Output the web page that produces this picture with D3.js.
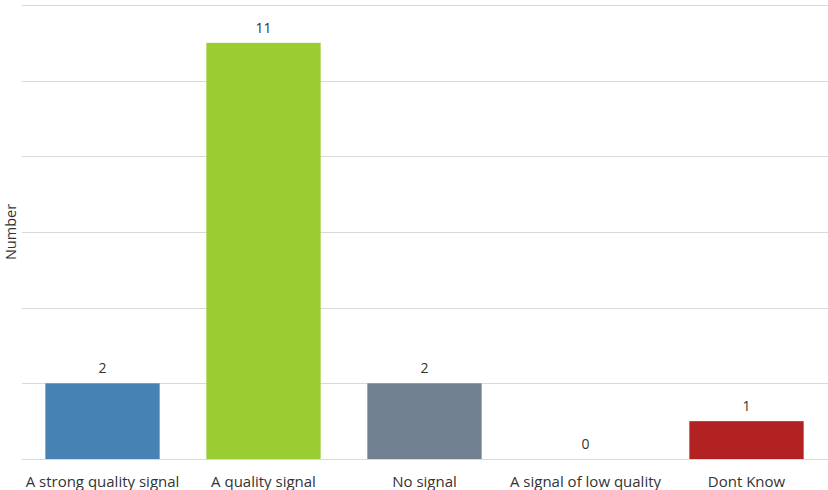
<!DOCTYPE html>
<html>
<head>
<meta charset="utf-8">
<script src="https://cdn.jsdelivr.net/npm/d3@7"></script>
<style>
  body { margin: 0; background: #fff; }
  svg text { font-family: "Open Sans", "Noto Sans", sans-serif; fill: #333333; }
</style>
</head>
<body>
<svg id="chart" width="828" height="490"></svg>
<script>
const categories = ["A strong quality signal", "A quality signal", "No signal", "A signal of low quality", "Dont Know"];
const counts = [2, 11, 2, 0, 1];
const barColors = ["#4682b4", "#9acd32", "#708090", "#4682b4", "#b22222"];
const gridTicks = [0, 2, 4, 6, 8, 10, 12];

const svg = d3.select("#chart");
const plot = { left: 22, right: 827, top: 5, bottom: 459 };

const x = d3.scaleBand()
  .domain(categories)
  .range([plot.left, plot.right])
  .paddingInner(0.29)
  .paddingOuter(0.145);

const y = d3.scaleLinear().domain([0, 12]).range([plot.bottom, plot.top]);

// horizontal gridlines
svg.append("g")
  .selectAll("line")
  .data(gridTicks)
  .join("line")
  .attr("x1", plot.left)
  .attr("x2", 828)
  .attr("y1", d => Math.round(y(d)) + 0.5)
  .attr("y2", d => Math.round(y(d)) + 0.5)
  .attr("stroke", "#d9d9d9")
  .attr("stroke-width", 1);

// bars
svg.append("g")
  .selectAll("rect")
  .data(counts)
  .join("rect")
  .attr("x", (d, i) => x(categories[i]))
  .attr("width", x.bandwidth())
  .attr("y", d => y(d))
  .attr("height", d => y(0) - y(d))
  .attr("fill", (d, i) => barColors[i]);

// value labels
svg.append("g")
  .selectAll("text")
  .data(counts)
  .join("text")
  .attr("x", (d, i) => x(categories[i]) + x.bandwidth() / 2)
  .attr("y", d => y(d) - 10)
  .attr("text-anchor", "middle")
  .attr("font-size", 14)
  .text(d => d);

// category axis labels
svg.append("g")
  .selectAll("text")
  .data(categories)
  .join("text")
  .attr("x", d => x(d) + x.bandwidth() / 2)
  .attr("y", 487)
  .attr("text-anchor", "middle")
  .attr("font-size", 15)
  .text(d => d);

// y axis title
svg.append("text")
  .attr("transform", "translate(16,232) rotate(-90)")
  .attr("text-anchor", "middle")
  .attr("font-size", 14.5)
  .text("Number");
</script>
</body>
</html>
